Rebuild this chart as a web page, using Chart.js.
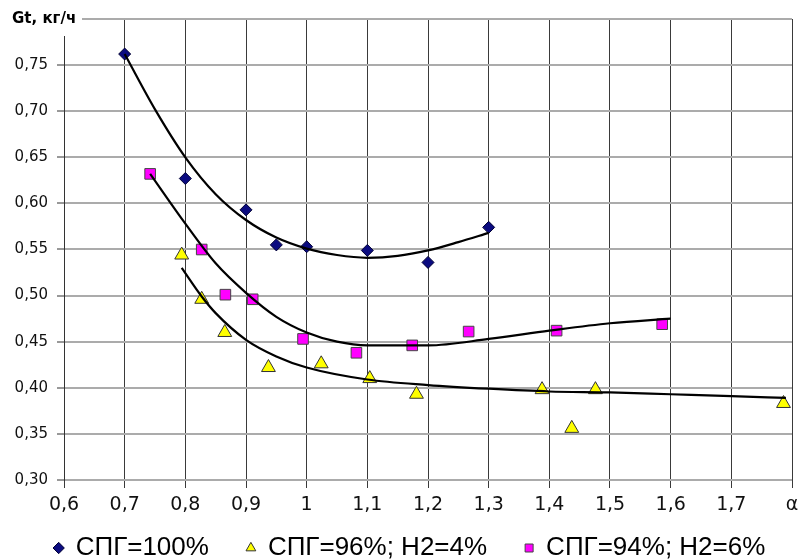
<!DOCTYPE html>
<html>
<head>
<meta charset="utf-8">
<script src="https://cdn.jsdelivr.net/npm/chart.js@4"></script>
<style>
  html, body { margin: 0; padding: 0; background: #fff; }
  #box { width: 805px; height: 560px; }
</style>
</head>
<body>
<div id="box"><canvas id="gt"></canvas></div>
<script>
const xA = [0.70, 0.80, 0.90, 0.95, 1.00, 1.10, 1.20, 1.30];
const yA = [0.762, 0.627, 0.593, 0.555, 0.553, 0.549, 0.536, 0.574];

const xB = [0.794, 0.827, 0.865, 0.937, 1.024, 1.104, 1.181, 1.388, 1.437, 1.476, 1.786];
const yB = [0.544, 0.496, 0.460, 0.422, 0.426, 0.410, 0.393, 0.398, 0.356, 0.398, 0.383];

const xC = [0.742, 0.827, 0.866, 0.911, 0.994, 1.082, 1.174, 1.267, 1.412, 1.586];
const yC = [0.632, 0.550, 0.501, 0.496, 0.453, 0.438, 0.446, 0.461, 0.462, 0.469];

// Trend curves, also
const tAx = [0.70, 0.75, 0.80, 0.85, 0.90, 0.95, 1.00, 1.05, 1.10, 1.15, 1.20, 1.25, 1.30];
const tAy = [0.762, 0.702, 0.650, 0.610, 0.582, 0.563, 0.551, 0.544, 0.541, 0.543, 0.549, 0.558, 0.568];

const tBx = [0.794, 0.827, 0.85, 0.90, 0.95, 1.00, 1.10, 1.20, 1.30, 1.40, 1.50, 1.60, 1.70, 1.79];
const tBy = [0.530, 0.499, 0.481, 0.452, 0.434, 0.422, 0.409, 0.403, 0.399, 0.396, 0.395, 0.393, 0.391, 0.389];

const tCx = [0.742, 0.80, 0.85, 0.90, 0.95, 1.00, 1.05, 1.10, 1.20, 1.30, 1.40, 1.50, 1.60];
const tCy = [0.632, 0.578, 0.535, 0.503, 0.477, 0.460, 0.450, 0.446, 0.446, 0.453, 0.462, 0.470, 0.475];

const seriesNames = ['СПГ=100%', 'СПГ=96%; Н2=4%', 'СПГ=94%; Н2=6%'];
const yTitle = 'Gt, кг/ч';

const toPts = (xs, ys) => xs.map((x, i) => ({ x: x, y: ys[i] }));

function trend(xs, ys) {
  return {
    label: 'trend',
    data: toPts(xs, ys),
    showLine: true,
    borderColor: '#000',
    borderWidth: 2.2,
    pointRadius: 0,
    cubicInterpolationMode: 'monotone',
    order: 0
  };
}

// axis title over the top-left corner
const titlePlugin = {
  id: 'yTitle',
  afterDraw(chart) {
    const ctx = chart.ctx;
    ctx.save();
    ctx.fillStyle = '#fff';
    ctx.fillRect(0, 0, 82, 36);
    ctx.font = 'bold 15px "DejaVu Sans"';
    ctx.fillStyle = '#000';
    ctx.textBaseline = 'middle';
    ctx.textAlign = 'left';
    ctx.fillText(yTitle, 12, 19);
    ctx.restore();
  }
};

// legend padding is big for the horizontal gaps, move the row back into place
const legendShift = {
  id: 'legendShift',
  afterLayout(chart) {
    const lg = chart.legend;
    if (!lg) return;
    lg.top -= 23;
    lg.bottom -= 23;
    lg.left += 14;
    lg.right += 14;
  }
};

new Chart(document.getElementById('gt'), {
  type: 'scatter',
  data: {
    datasets: [
      {
        label: seriesNames[0],
        data: toPts(xA, yA),
        pointStyle: 'rectRot',
        pointRadius: 6,
        backgroundColor: '#0b0b80',
        borderColor: '#000033',
        borderWidth: 1,
        order: 1
      },
      {
        label: seriesNames[1],
        data: toPts(xB, yB),
        pointStyle: 'triangle',
        pointRadius: 8,
        backgroundColor: '#ffff00',
        borderColor: '#333',
        borderWidth: 1,
        order: 1
      },
      {
        label: seriesNames[2],
        data: toPts(xC, yC),
        pointStyle: 'rect',
        pointRadius: 7.5,
        backgroundColor: '#ff00ff',
        borderColor: '#444',
        borderWidth: 1,
        order: 1
      },
      trend(tAx, tAy),
      trend(tBx, tBy),
      trend(tCx, tCy)
    ]
  },
  options: {
    responsive: true,
    maintainAspectRatio: false,
    animation: false,
    layout: { padding: { top: 19, right: 13, left: 0, bottom: -34 } },
    plugins: {
      tooltip: { enabled: false },
      legend: {
        position: 'bottom',
        labels: {
          usePointStyle: true,
          boxWidth: 8,
          boxHeight: 8,
          padding: 38,
          color: '#000',
          font: { family: 'Liberation Sans', size: 26 },
          filter: item => item.datasetIndex < 3
        }
      }
    },
    scales: {
      x: {
        type: 'linear',
        min: 0.6,
        max: 1.8,
        afterFit: s => { s.height = 40; },
        border: { display: false },
        grid: { color: '#3a3a3a', lineWidth: 1, tickLength: 8, tickColor: '#3a3a3a' },
        ticks: {
          stepSize: 0.1,
          padding: 6,
          color: '#111',
          font: { family: 'DejaVu Sans', size: 19 },
          callback: v => Math.abs(v - 1.8) < 1e-6 ? 'α' : String(Number(v.toFixed(1))).replace('.', ',')
        }
      },
      y: {
        min: 0.3,
        max: 0.8,
        afterFit: s => { s.width = 64; },
        border: { display: true, color: '#333', width: 1 },
        grid: { color: '#ababab', lineWidth: 2, tickLength: 7, tickColor: '#333', tickWidth: 1 },
        ticks: {
          stepSize: 0.05,
          padding: 9,
          color: '#111',
          font: { family: 'DejaVu Sans', size: 15 },
          callback: v => Math.abs(v - 0.8) < 1e-6 ? '' : v.toFixed(2).replace('.', ',')
        }
      }
    }
  },
  plugins: [titlePlugin, legendShift]
});
</script>
</body>
</html>
